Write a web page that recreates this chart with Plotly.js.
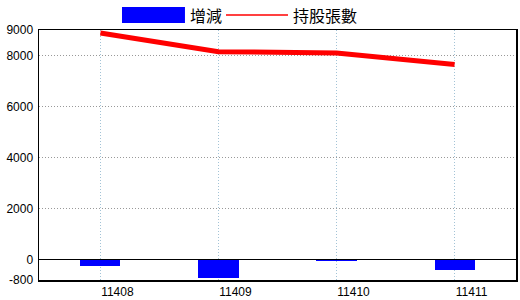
<!DOCTYPE html>
<html><head><meta charset="utf-8">
<script src="https://cdn.plot.ly/plotly-3.0.1.min.js"></script>
<style>html,body{margin:0;padding:0;background:#fff}#c{width:520px;height:300px}</style>
</head><body><div id="c"></div>
<script>
const categories = ["11408", "11409", "11410", "11411"];
const changeValues = [-250, -720, -50, -420];
const holdingValues = [8880, 8150, 8100, 7650];
const yTickVals = [-800, 0, 2000, 4000, 6000, 8000, 9000];
const yTickText = ["-800", "0", "2000", "4000", "6000", "8000", "9000"];
const legendNames = ["增減", "持股張數"];

const xIdx = categories.map((_, i) => i);

const traces = [
  {type: "bar", x: xIdx, y: changeValues, name: legendNames[0],
   marker: {color: "#0000ff", line: {width: 0}}, width: 0.34, hoverinfo: "skip"},
  {type: "scatter", mode: "lines", x: xIdx, y: holdingValues, name: legendNames[1],
   line: {color: "#ff0000", width: 5}, hoverinfo: "skip"}
];

const tickFont = {family: "Liberation Sans, Arial, sans-serif", size: 12, color: "#000"};
const legFont = {family: "Noto Sans CJK TC, sans-serif", size: 16, color: "#000"};

const layout = {
  width: 520, height: 300,
  margin: {l: 39, r: 4, t: 30, b: 20},
  paper_bgcolor: "#fff", plot_bgcolor: "#fff",
  showlegend: false,
  bargap: 0,
  xaxis: {
    range: [-0.52, 3.52], tickmode: "array", tickvals: xIdx, ticktext: categories,
    showgrid: true, gridcolor: "#a3c3d6", griddash: "1px,2px", gridwidth: 1,
    showline: true, linecolor: "#000", linewidth: 1.5, mirror: true,
    ticks: "", tickfont: tickFont, ticklabelshift: 17, zeroline: false, fixedrange: true
  },
  yaxis: {
    range: [-800, 9000], tickmode: "array", tickvals: yTickVals, ticktext: yTickText,
    showgrid: true, gridcolor: "#999", griddash: "1px,2px", gridwidth: 1,
    showline: true, linecolor: "#000", linewidth: 1.5, mirror: true,
    zeroline: true, zerolinecolor: "#000", zerolinewidth: 1.2,
    ticks: "", ticklabelstandoff: 2, tickfont: tickFont, fixedrange: true
  },
  shapes: [
    {type: "rect", xref: "paper", yref: "paper", x0: 0.174, x1: 0.306, y0: 1.028, y1: 1.092,
     fillcolor: "#0000ff", line: {width: 0}},
    {type: "line", xref: "paper", yref: "paper", x0: 0.392, x1: 0.522, y0: 1.06, y1: 1.06,
     line: {color: "#ff0000", width: 1.5}}
  ],
  annotations: [
    {xref: "paper", yref: "paper", x: 0.312, y: 1.06, xanchor: "left", yanchor: "middle",
     text: legendNames[0], showarrow: false, font: legFont},
    {xref: "paper", yref: "paper", x: 0.528, y: 1.06, xanchor: "left", yanchor: "middle",
     text: legendNames[1], showarrow: false, font: legFont}
  ]
};

Plotly.newPlot("c", traces, layout, {staticPlot: true, displayModeBar: false});
</script>
</body></html>
